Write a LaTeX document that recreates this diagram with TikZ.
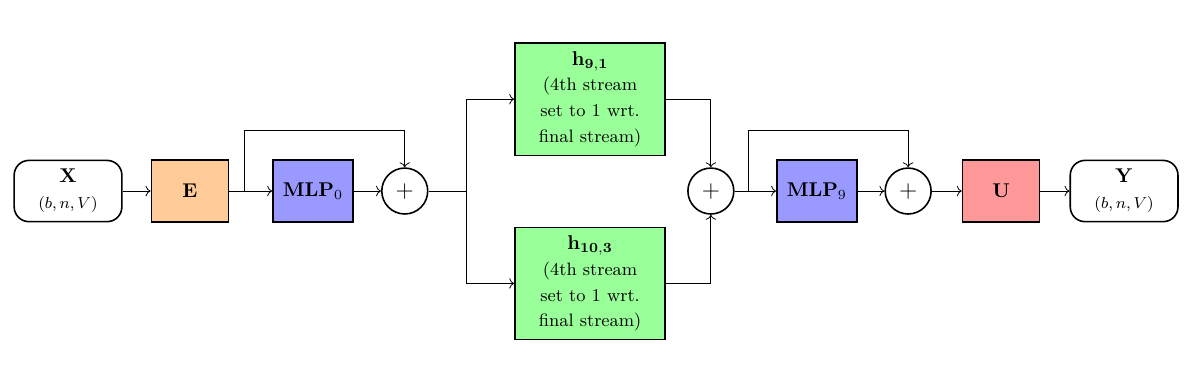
\documentclass[tikz,border=0pt]{standalone}
\usepackage{amsmath,amssymb}
\usepackage{tikz}
\usetikzlibrary{arrows.meta,positioning,calc}
\tikzset{
  blk/.style={draw,thick,align=center,minimum height=1.09cm,inner sep=2pt},
  io/.style={blk,rounded corners=0.26cm,minimum width=1.9cm,minimum height=1.08cm},
  embed/.style={blk,fill=orange!40,minimum width=1.36cm},
  mlp/.style={blk,fill=blue!40,minimum width=1.41cm},
  head/.style={blk,fill=green!40,minimum width=2.65cm,minimum height=1.98cm,font=\small},
  unemb/.style={blk,fill=red!40,minimum width=1.36cm},
  add/.style={draw,thick,circle,minimum size=0.81cm,inner sep=0pt,font=\large},
  arr/.style={->},
  wire/.style={-},
}

\begin{document}
\begin{tikzpicture}[x=1cm,y=1cm]
  \useasboundingbox (0,0) rectangle (21.01,6.9);
  \node[io] (x) at (1.20,3.53) {$\mathbf{X}$\\[1pt]{\footnotesize $(b,n,V)$}};
  \node[embed] (emb) at (3.35,3.53) {$\mathbf{E}$};
  \node[mlp] (mlp0) at (5.52,3.53) {$\mathbf{MLP}_0$};
  \node[add] (add0) at (7.14,3.53) {$+$};
  \coordinate (split) at (8.22,3.53);
  \node[head] (h91) at (10.41,5.15) {\normalsize$\mathbf{h_{9,1}}$\\[2pt](4th stream\\[2pt]set to 1 wrt.\\[2pt]final stream)};
  \node[head] (h103) at (10.41,1.90) {\normalsize$\mathbf{h_{10,3}}$\\[2pt](4th stream\\[2pt]set to 1 wrt.\\[2pt]final stream)};
  \node[add] (add1) at (12.54,3.53) {$+$};
  \node[mlp] (mlp9) at (14.41,3.53) {$\mathbf{MLP}_9$};
  \node[add] (add2) at (16.02,3.53) {$+$};
  \node[unemb] (unemb) at (17.66,3.53) {$\mathbf{U}$};
  \node[io] (y) at (19.83,3.53) {$\mathbf{Y}$\\[1pt]{\footnotesize $(b,n,V)$}};
  % residual taps
  \coordinate (tap0) at (4.32,3.53);
  \coordinate (tap1) at (13.21,3.53);
  % main path
  \draw[arr] (x) -- (emb);
  \draw[arr] (emb) -- (mlp0);
  \draw[arr] (mlp0) -- (add0);
  \draw[wire] (add0) -- (split);
  \draw[arr] (split) |- (h91);
  \draw[arr] (split) |- (h103);
  \draw[arr] (h91) -| (add1);
  \draw[arr] (h103) -| (add1);
  \draw[arr] (add1) -- (mlp9);
  \draw[arr] (mlp9) -- (add2);
  \draw[arr] (add2) -- (unemb);
  \draw[arr] (unemb) -- (y);
  % skip connections
  \draw[arr] (tap0) -- ++(0,1.07) -| (add0);
  \draw[arr] (tap1) -- ++(0,1.07) -| (add2);
\end{tikzpicture}
\end{document}
